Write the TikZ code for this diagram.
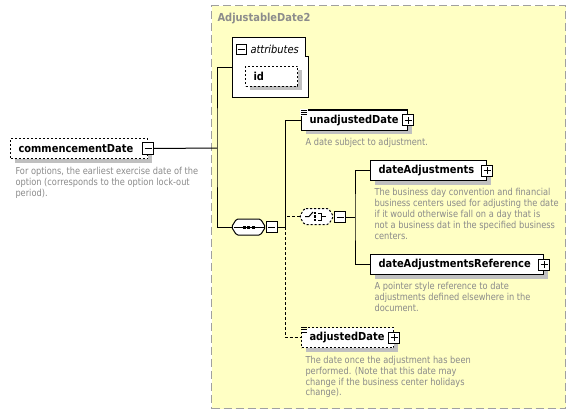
\documentclass[tikz,border=0pt]{standalone}
\usepackage{fontspec}
\setmainfont{DejaVu Sans}[FakeStretch=0.86]
\newfontfamily\lblfont{DejaVu Sans}[FakeStretch=0.9]
\usetikzlibrary{shadows}
\definecolor{bgy}{RGB}{255,255,196}
\definecolor{cbord}{RGB}{160,160,160}
\definecolor{dtext}{RGB}{138,138,138}
\definecolor{shdc}{RGB}{192,192,192}
\definecolor{ttl}{RGB}{140,140,140}
\begin{document}
\begin{tikzpicture}[x=1pt,y=-1pt,line width=1pt,
  shd/.style={drop shadow={shadow xshift=4pt,shadow yshift=-4pt,fill=shdc,opacity=1}},
  elem/.style={draw=black,fill=white,line width=1pt,minimum height=20pt,inner xsep=8pt,inner ysep=0pt,anchor=north west,align=left,font=\lblfont\bfseries\fontsize{11}{13}\selectfont,shd},
  optelem/.style={elem,dash pattern=on 2pt off 2pt},
  desc/.style={anchor=north west,inner sep=0pt,align=left,text=dtext,font=\fontsize{9.6}{10.8}\selectfont},
  pmbox/.style={draw=black,fill=white,line width=1pt,minimum size=11pt,inner sep=0pt},
  plusbox/.style={pmbox,path picture={\draw[line width=1pt] ([xshift=-3.5pt]path picture bounding box.center) -- ([xshift=3.5pt]path picture bounding box.center) ([yshift=-3.5pt]path picture bounding box.center) -- ([yshift=3.5pt]path picture bounding box.center);}},
  minusbox/.style={pmbox,path picture={\draw[line width=1pt] ([xshift=-3.5pt]path picture bounding box.center) -- ([xshift=3.5pt]path picture bounding box.center);}},
  conn/.style={draw=black,line width=1pt},
  optconn/.style={conn,dash pattern=on 3pt off 2pt},
  holder/.style={inner sep=0pt,draw=none},
]
\useasboundingbox (0,0) rectangle (577,414);

% container
\node[holder,anchor=north west,minimum width=354pt,minimum height=403pt,fill=bgy,draw=cbord,line width=1.2pt,dash pattern=on 8pt off 4pt] (ad2) at (211,5) {};
\node[anchor=west,inner sep=0pt,text=ttl,font=\lblfont\bfseries\fontsize{11}{13}\selectfont] (ttl) at (217,19) {AdjustableDate2};

% commencementDate
\node[optelem,text width=121pt] (cd) at (10,138) {commencementDate};
\node[minusbox] (cdpm) at (cd.east) {};
\node[desc] (cdd) at (15,166.7) {For options, the earliest exercise date of the\\option (corresponds to the option lock-out\\period).};

% attributes
\node[holder,anchor=north west,minimum width=76pt,minimum height=59pt] (attr) at (232,38) {};
\draw[fill=white] (attr.north west) -- ++(73,0) -- ++(0,19) -- ++(3,0) |- (attr.south west) -- cycle;
\node[minusbox,minimum size=10pt] (attrpm) at (241,50) {};
\node[anchor=west,inner sep=0pt,font=\lblfont\itshape\fontsize{11}{13}\selectfont] (attrt) at (250,49) {attributes};
\node[optelem,text width=36pt] (id) at (245,66) {id};

% sequence
\node[holder,minimum width=33pt,minimum height=15pt] (seq) at (248.5,227) {};
\begin{scope}[shift={(4,4)}]
\fill[shdc,rounded corners=1.5pt] ([xshift=5pt]seq.north west) -- ([xshift=-5pt]seq.north east) -- (seq.east) -- ([xshift=-5pt]seq.south east) -- ([xshift=5pt]seq.south west) -- (seq.west) -- cycle;
\end{scope}
\draw[fill=white,rounded corners=1.5pt] ([xshift=5pt]seq.north west) -- ([xshift=-5pt]seq.north east) -- (seq.east) -- ([xshift=-5pt]seq.south east) -- ([xshift=5pt]seq.south west) -- (seq.west) -- cycle;
\draw ([xshift=2pt]seq.west) -- ([xshift=-2pt]seq.east);
\foreach \dx in {-4.5,0,4.5} \fill ([xshift=\dx pt]seq.center) +(-1.5,-1.5) rectangle +(1.5,1.5);
\node[minusbox] (seqpm) at (271.5,227) {};

% choice
\node[holder,minimum width=33pt,minimum height=15pt] (ch) at (316.5,216.5) {};
\begin{scope}[shift={(4,4)}]
\fill[shdc,rounded corners=1.5pt] ([xshift=5pt]ch.north west) -- ([xshift=-5pt]ch.north east) -- (ch.east) -- ([xshift=-5pt]ch.south east) -- ([xshift=5pt]ch.south west) -- (ch.west) -- cycle;
\end{scope}
\draw[fill=white,rounded corners=1.5pt,dash pattern=on 2pt off 2pt] ([xshift=5pt]ch.north west) -- ([xshift=-5pt]ch.north east) -- (ch.east) -- ([xshift=-5pt]ch.south east) -- ([xshift=5pt]ch.south west) -- (ch.west) -- cycle;
\draw (305,216.5) -- (309,216.5) -- (313,212);
\foreach \yy in {213,216.5,220} \fill (314.8,\yy) +(-1.3,-1.3) rectangle +(1.3,1.3);
\draw (318,213) -- (321,213) -- (321,220) -- (318,220) (321,216.5) -- (326,216.5);
\node[minusbox] (chpm) at (340,217) {};

% elements
\node[elem,text width=90pt] (ua) at (301,110) {unadjustedDate};
\node[plusbox] (uapm) at (ua.east) {};
\fill[white] (300,109) rectangle (307.5,116.5);
\draw[line width=0.8pt] (301,110.5) -- (307,110.5) (301,112.7) -- (307,112.7) (301,114.9) -- (307,114.9);
\draw (307.5,110) -- (ua.north east);
\draw (301,116.5) -- (ua.south west);
\node[desc] (uad) at (305,138.2) {A date subject to adjustment.};

\node[elem,text width=100pt] (da) at (370,160) {dateAdjustments};
\node[plusbox] (dapm) at (da.east) {};
\node[desc] (dad) at (374,188.2) {The business day convention and financial\\business centers used for adjusting the date\\if it would otherwise fall on a day that is\\not a business dat in the specified business\\centers.};

\node[elem,text width=157pt] (dar) at (370,254) {dateAdjustmentsReference};
\node[plusbox] (darpm) at (dar.east) {};
\node[desc] (dard) at (374,282.2) {A pointer style reference to date\\adjustments defined elsewhere in the\\document.};

\node[optelem,text width=76pt] (adj) at (301,327) {adjustedDate};
\node[plusbox] (adjpm) at (adj.east) {};
\fill[bgy] (299,325) rectangle (307.5,333);
\fill[white] (301.5,329) rectangle (307.5,333);
\draw[line width=0.8pt] (301,327.5) -- (307,327.5) (301,329.7) -- (307,329.7) (301,331.9) -- (307,331.9);
\node[desc] (adjd) at (305,355.7) {The date once the adjustment has been\\performed. (Note that this date may\\change if the business center holidays\\change).};

% connectors
\coordinate (j1) at (217,148);
\coordinate (j2) at (285,227);
\coordinate (j3) at (355,217);
\draw[conn] (cdpm.east) -- (j1);
\draw[conn] (attr.west) -| (j1) |- (seq.west);
\draw[conn] (seqpm.east) -- (j2);
\draw[conn] (ua.west) -| (j2);
\draw[optconn] (ch.west) -- (ch.west -| j2);
\draw[optconn] (j2) |- (adj.west);
\draw[conn] (chpm.east) -- (j3);
\draw[conn] (da.west) -| (j3) |- (dar.west);
\end{tikzpicture}
\end{document}
